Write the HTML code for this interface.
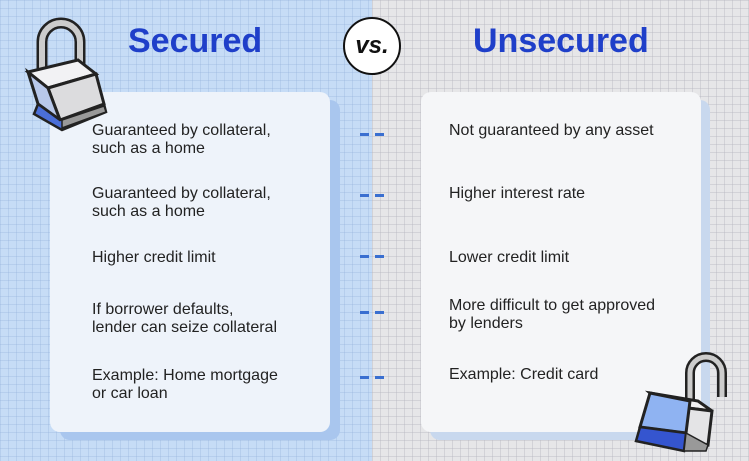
<!DOCTYPE html>
<html><head><style>
body{margin:0;width:749px;height:461px;overflow:hidden;position:relative;font-family:"Liberation Sans",sans-serif;}
.bgL{position:absolute;left:0;top:0;width:372px;height:461px;background-color:#c6dcf6;
background-image:linear-gradient(rgba(150,180,220,.35) 1px,transparent 1px),linear-gradient(90deg,rgba(150,180,220,.35) 1px,transparent 1px);background-size:8px 8px;}
.bgR{position:absolute;left:372px;top:0;width:377px;height:461px;background-color:#e6e6e8;
background-image:linear-gradient(rgba(180,180,190,.4) 1px,transparent 1px),linear-gradient(90deg,rgba(180,180,190,.4) 1px,transparent 1px);background-size:8px 8px;}
.title{position:absolute;top:22px;font-size:34px;font-weight:bold;color:#1f3fc9;}
.card{position:absolute;top:92px;width:280px;height:340px;border-radius:10px;}
.sh{position:absolute;top:100px;width:280px;height:340px;border-radius:10px;}
.t{position:absolute;font-size:16px;color:#222;line-height:18px;}
.d{position:absolute;left:360px;width:24px;height:3px;background:repeating-linear-gradient(90deg,#3a6fd0 0 9px,transparent 9px 15px);}
</style></head><body>
<div class="bgL"></div><div class="bgR"></div>
<div class="sh" style="left:60px;background:#a9c6ee"></div>
<div class="card" style="left:50px;background:#eef3fa"></div>
<div class="sh" style="left:430px;background:#c8d8ee"></div>
<div class="card" style="left:421px;background:#f5f6f8"></div>
<div class="title" style="left:128px">Secured</div>
<div class="title" style="left:473px">Unsecured</div>
<div style="position:absolute;left:343px;top:17px;width:54px;height:54px;border-radius:50%;background:#fff;border:2px solid #111;text-align:center;line-height:54px;font-size:24px;font-weight:bold;font-style:italic;color:#111">vs.</div>
<svg style="position:absolute;left:20px;top:12px" width="100" height="120" viewBox="0 0 100 120">
<path d="M22 62 V30 a19 19 0 0 1 38 0 V55" fill="none" stroke="#222" stroke-width="11"/>
<path d="M22 62 V30 a19 19 0 0 1 38 0 V55" fill="none" stroke="#ccc" stroke-width="6"/>
<path d="M8 60 L58 48 L76 62 L28 76 Z" fill="#f2f2f4" stroke="#222" stroke-width="3"/>
<path d="M28 76 L76 62 L84 92 L40 108 Z" fill="#dcdcde" stroke="#222" stroke-width="3"/>
<path d="M8 60 L28 76 L40 108 L18 92 Z" fill="#b8c8ea" stroke="#222" stroke-width="3"/>
<path d="M18 92 L40 108 L84 92 L86 100 L42 118 L14 102 Z" fill="#4b6fd8" stroke="#222" stroke-width="2.5"/>
<path d="M42 108 L84 94 L86 100 L42 116 Z" fill="#999" stroke="#222" stroke-width="1.5"/>
</svg>
<svg style="position:absolute;left:630px;top:345px" width="115" height="112" viewBox="0 0 115 112">
<path d="M60 60 V28 a16 16 0 0 1 32 0 V52" fill="none" stroke="#222" stroke-width="10"/>
<path d="M60 60 V28 a16 16 0 0 1 32 0 V52" fill="none" stroke="#ccc" stroke-width="5"/>
<path d="M20 48 L68 56 L82 66 L34 60 Z" fill="#f0f0f2" stroke="#222" stroke-width="3"/>
<path d="M34 60 L82 66 L78 100 L28 92 Z" fill="#e4e4e6" stroke="#222" stroke-width="3"/>
<path d="M20 48 L60 56 L56 88 L10 82 Z" fill="#8fb3f2" stroke="#222" stroke-width="3"/>
<path d="M10 82 L56 88 L54 106 L6 96 Z" fill="#3555cf" stroke="#222" stroke-width="2.5"/>
<path d="M56 88 L78 100 L76 106 L54 106 Z" fill="#999" stroke="#222" stroke-width="1.5"/>
</svg>
<div class="t" style="left:92px;top:122px">Guaranteed by collateral,<br>such as a home</div>
<div class="t" style="left:92px;top:185px">Guaranteed by collateral,<br>such as a home</div>
<div class="t" style="left:92px;top:249px">Higher credit limit</div>
<div class="t" style="left:92px;top:301px">If borrower defaults,<br>lender can seize collateral</div>
<div class="t" style="left:92px;top:367px">Example: Home mortgage<br>or car loan</div>
<div class="t" style="left:449px;top:122px">Not guaranteed by any asset</div>
<div class="t" style="left:449px;top:185px">Higher interest rate</div>
<div class="t" style="left:449px;top:249px">Lower credit limit</div>
<div class="t" style="left:449px;top:297px">More difficult to get approved<br>by lenders</div>
<div class="t" style="left:449px;top:366px">Example: Credit card</div>
<div class="d" style="top:133px"></div>
<div class="d" style="top:194px"></div>
<div class="d" style="top:255px"></div>
<div class="d" style="top:311px"></div>
<div class="d" style="top:376px"></div>
</body></html>
